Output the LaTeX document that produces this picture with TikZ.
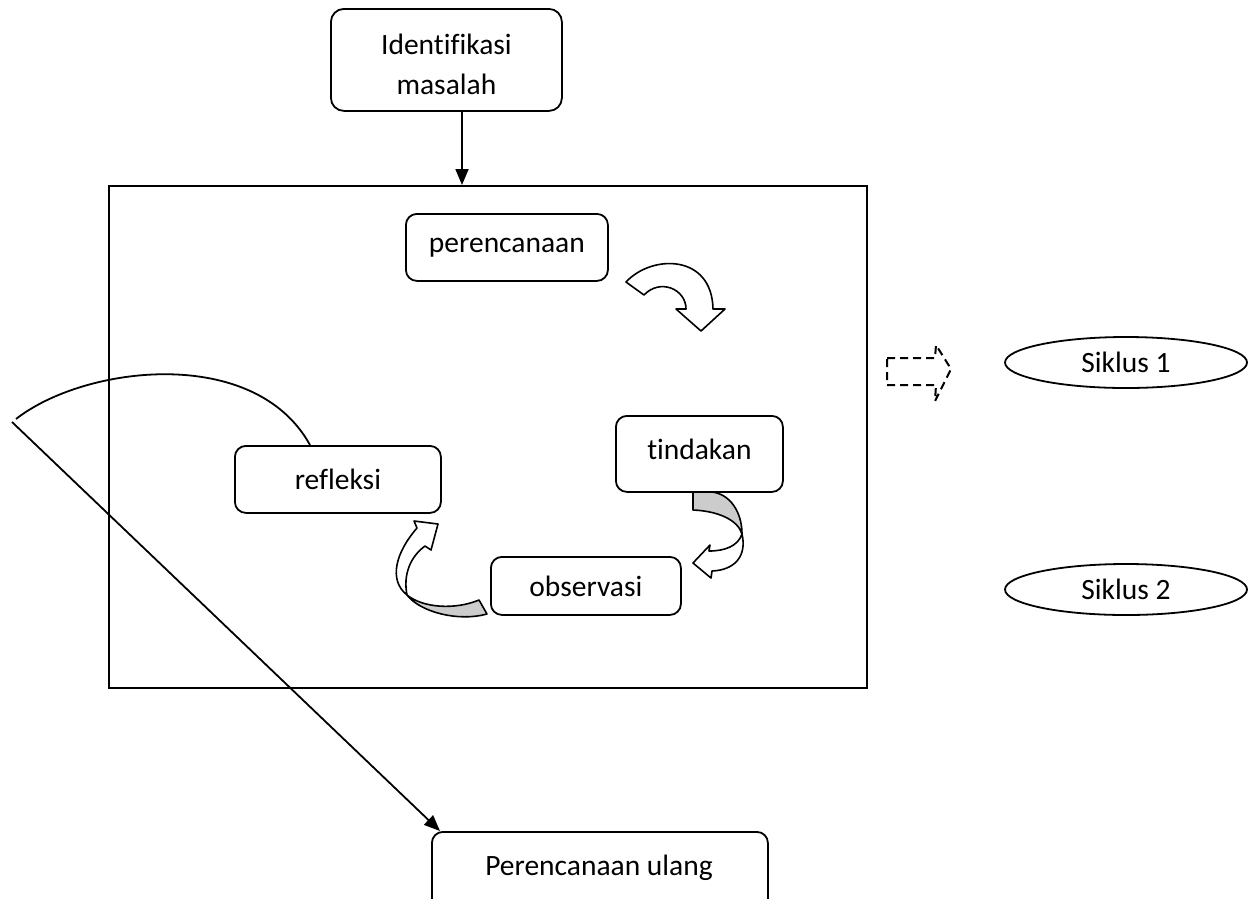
\documentclass[tikz,border=0pt]{standalone}
\usepackage{fontspec}
\setmainfont{Carlito}[Ligatures=NoCommon]
\usetikzlibrary{arrows.meta,shapes.geometric}
\begin{document}
\begin{tikzpicture}[x=1pt,y=-1pt,
  stepbox/.style={draw, line width=1.8pt, rounded corners=11pt, fill=white,
    inner sep=0pt, anchor=north west},
  lbl/.style={font=\fontsize{29.5}{40}\selectfont, align=center},
  arr/.style={line width=1.8pt, -{Triangle[length=16pt,width=13pt]}},
  ribbon/.style={draw, line width=1.6pt, line join=round},
  cycle oval/.style={ellipse, draw, line width=1.8pt, inner sep=0pt,
    minimum width=242pt, minimum height=51pt},
]
\useasboundingbox (0,0) rectangle (1257,898);
\clip (0,0) rectangle (1257,898);

% problem identification and the frame of one cycle
\node[stepbox, rounded corners=13pt, minimum width=231pt, minimum height=102pt, lbl] (idm) at (330,8) {\rule{0pt}{30pt}Identifikasi\\masalah};
\node[draw, line width=1.8pt, minimum width=758pt, minimum height=502pt,
  anchor=north west, inner sep=0pt] (frame) at (108,185) {};
\coordinate (idmout) at (462,110);
\coordinate (framein) at (462,185);
\draw[arr] (idmout) -- (framein);

% curved arrow: perencanaan -> tindakan
\path[ribbon, fill=white] (626,282) .. controls (652,254) and (712,254) .. (713,309)
  -- (725,309) -- (701,331) -- (676,309) -- (686,309)
  .. controls (686,289) and (660,278) .. (644,295) -- cycle;

% curved arrow: tindakan -> observasi
\path[ribbon, fill=black!20] (693,492) -- (693,510)
  .. controls (718,511) and (738,520) .. (742,534)
  .. controls (742,512) and (730,494) .. (712,492) -- cycle;
\path[ribbon, fill=white] (742,534) .. controls (747,556) and (735,570) .. (712,571)
  -- (711,578) -- (693,563) -- (710,545) -- (709,551)
  .. controls (725,551) and (738,546) .. (742,534) -- cycle;

% curved arrow: observasi -> refleksi
\path[ribbon, fill=black!20] (407,595) .. controls (420,612) and (458,622) .. (487,614)
  -- (479,600) .. controls (455,610) and (423,608) .. (407,595) -- cycle;
\path[ribbon, fill=white] (417,528) .. controls (396,552) and (388,580) .. (407,595)
  .. controls (403,575) and (410,557) .. (425,546)
  -- (431,550) -- (438,524) -- (414,521) -- cycle;

% the four steps of the cycle
\node[stepbox, minimum width=202pt, minimum height=67pt, lbl] (plan) at (405,213) {perencanaan};
\node[stepbox, minimum width=167pt, minimum height=76pt, lbl] (act) at (615,415) {\rule[-10pt]{0pt}{0pt}tindakan};
\node[stepbox, minimum width=206pt, minimum height=67pt, lbl] (refl) at (234,445) {refleksi};
\node[stepbox, minimum width=190pt, minimum height=58pt, lbl] (obs) at (490,556) {observasi};

% dashed block arrow towards the cycles
\draw[line width=2pt, dash pattern=on 8pt off 5pt, line join=miter]
  (887,358) -- (935,358) -- (936,345) -- (951,369) -- (935,401) -- (936,385) -- (887,385) -- cycle;

% cycles
\node[cycle oval, lbl] (s1) at (1126,362.5) {Siklus 1};
\node[cycle oval, lbl] (s2) at (1126,589.5) {Siklus 2};

% re-planning
\node[stepbox, minimum width=336pt, minimum height=90pt] (pu) at (431,831) {};
\node[lbl, anchor=base] (pulabel) at (599,875) {Perencanaan ulang};

\coordinate (arcstart) at (16,419);
\coordinate (reflin) at (310,445);
\coordinate (lstart) at (12,422);
\coordinate (puin) at (440,831);
\draw[line width=1.8pt] (arcstart) .. controls (85,365) and (255,345) .. (reflin);
\draw[arr] (lstart) -- (puin);
\end{tikzpicture}
\end{document}
